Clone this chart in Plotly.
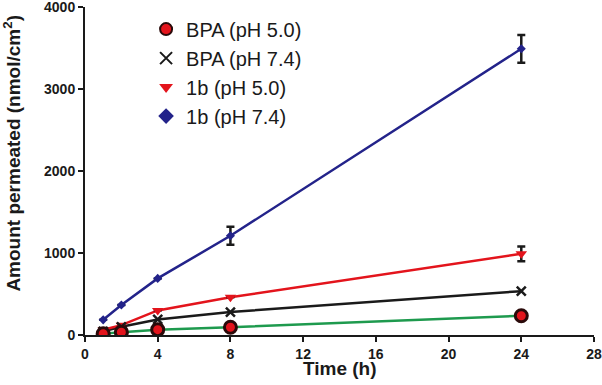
import plotly.graph_objects as go

time_h = [1, 2, 4, 8, 24]
bpa_ph50 = [15, 35, 65, 95, 235]
bpa_ph74 = [45, 100, 190, 280, 535]
b1_ph50 = [65, 120, 300, 460, 990]
b1_ph74 = [185, 365, 690, 1210, 3490]
b1_ph50_err = [0, 0, 0, 0, 90]
b1_ph74_err = [0, 0, 0, 110, 170]

x_ticks = [0, 4, 8, 12, 16, 20, 24, 28]
y_ticks = [0, 1000, 2000, 3000, 4000]
x_title = "Time (h)"
y_title = "Amount permeated (nmol/cm<sup>2</sup>)"

BLUE = "#23238a"
RED = "#e3141c"
GREEN = "#1e9a4e"
BLACK = "#1a1a1a"
FONT = "Liberation Sans, Arial, sans-serif"

circle_mk = dict(symbol="circle", size=12, color=RED, line=dict(color="#2a0a0a", width=3))
x_mk = dict(symbol="x-thin", size=9, color=BLACK, line=dict(color=BLACK, width=2.5))
tri_mk = dict(symbol="triangle-down", size=10, color=RED)
dia_mk = dict(symbol="diamond", size=7, color=BLUE)

fig = go.Figure()

# connecting lines (no legend)
for y, col in [(bpa_ph50, GREEN), (bpa_ph74, BLACK), (b1_ph50, RED), (b1_ph74, BLUE)]:
    fig.add_trace(go.Scatter(x=time_h, y=y, mode="lines", line=dict(color=col, width=2.5),
                             showlegend=False, hoverinfo="skip"))

# markers with error bars
fig.add_trace(go.Scatter(x=time_h, y=b1_ph74, mode="markers", name="1b (pH 7.4)", marker=dia_mk,
                         error_y=dict(type="data", array=b1_ph74_err, color=BLACK,
                                      thickness=2.5, width=4), showlegend=False))
fig.add_trace(go.Scatter(x=time_h, y=b1_ph50, mode="markers", name="1b (pH 5.0)", marker=tri_mk,
                         error_y=dict(type="data", array=b1_ph50_err, color=BLACK,
                                      thickness=2.5, width=4), showlegend=False))
fig.add_trace(go.Scatter(x=time_h, y=bpa_ph74, mode="markers", name="BPA (pH 7.4)",
                         marker=x_mk, showlegend=False))
fig.add_trace(go.Scatter(x=time_h, y=bpa_ph50, mode="markers", name="BPA (pH 5.0)",
                         marker=circle_mk, showlegend=False))

# legend entries (markers only) in original order
legend_items = [
    ("BPA (pH 5.0)", circle_mk),
    ("BPA (pH 7.4)", x_mk),
    ("1b (pH 5.0)", tri_mk),
    ("1b (pH 7.4)", dia_mk),
]
for name, mk in legend_items:
    fig.add_trace(go.Scatter(x=[None], y=[None], mode="markers", name=name, marker=mk))

axis_common = dict(
    showline=True, linecolor=BLACK, linewidth=2,
    ticks="outside", ticklen=5, tickwidth=2, tickcolor=BLACK,
    showgrid=False, zeroline=False, automargin=False,
    ticklabeloverflow="allow",
    tickfont=dict(family=FONT, size=14, color=BLACK, weight="bold"),
)

title_font = dict(family=FONT, size=19, color=BLACK, weight="bold")

fig.update_layout(
    width=602, height=385,
    margin=dict(l=85, r=8, t=7, b=50),
    paper_bgcolor="white", plot_bgcolor="white",
    font=dict(family=FONT, color=BLACK),
    xaxis=dict(range=[0, 28], tickvals=x_ticks, **axis_common),
    yaxis=dict(range=[0, 4000], tickvals=y_ticks, **axis_common),
    legend=dict(x=0.12, y=0.992, xanchor="left", yanchor="top",
                font=dict(family=FONT, size=20, color=BLACK),
                bgcolor="rgba(0,0,0,0)", itemsizing="constant", tracegroupgap=0),
    annotations=[
        dict(text=x_title, xref="paper", yref="paper", x=0.5, y=0, yshift=-33,
             xanchor="center", yanchor="middle", showarrow=False, font=title_font),
        dict(text=y_title, xref="paper", yref="paper", x=0, xshift=-73, y=0.553,
             xanchor="center", yanchor="middle", textangle=-90, showarrow=False, font=title_font),
    ],
)

fig.write_html("out.html", config={"displayModeBar": False},
               post_script="document.body.style.margin='0';")
